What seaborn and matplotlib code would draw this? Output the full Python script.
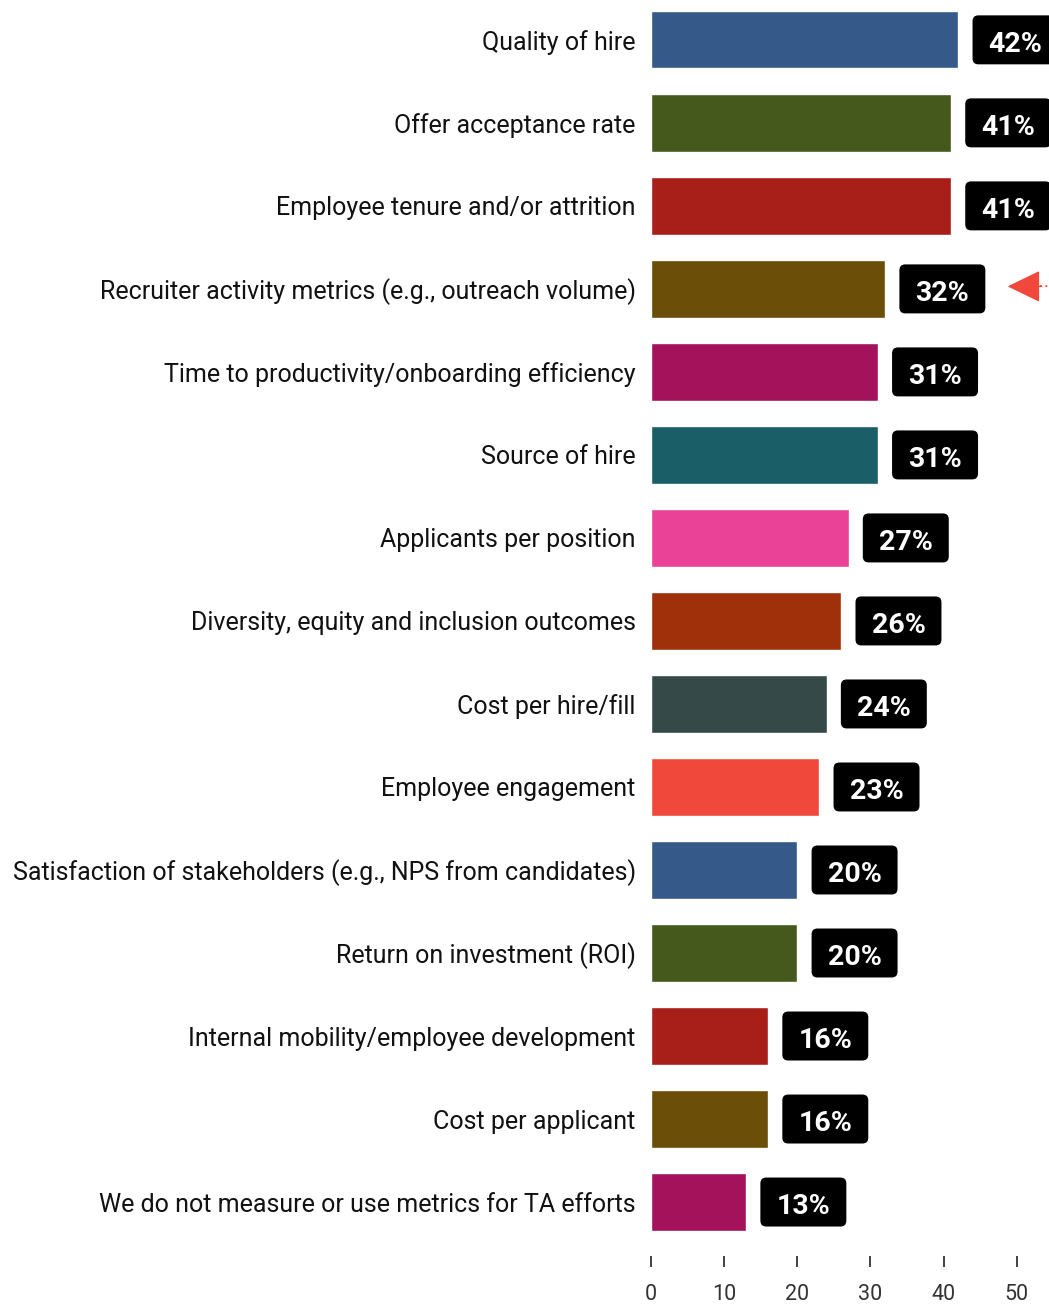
import matplotlib
matplotlib.use("Agg")
import matplotlib.pyplot as plt
from matplotlib.patches import FancyBboxPatch
import seaborn as sns
import pandas as pd

categories = [
    "Quality of hire",
    "Offer acceptance rate",
    "Employee tenure and/or attrition",
    "Recruiter activity metrics (e.g., outreach volume)",
    "Time to productivity/onboarding efficiency",
    "Source of hire",
    "Applicants per position",
    "Diversity, equity and inclusion outcomes",
    "Cost per hire/fill",
    "Employee engagement",
    "Satisfaction of stakeholders (e.g., NPS from candidates)",
    "Return on investment (ROI)",
    "Internal mobility/employee development",
    "Cost per applicant",
    "We do not measure or use metrics for TA efforts",
]
values = [42, 41, 41, 32, 31, 31, 27, 26, 24, 23, 20, 20, 16, 16, 13]
colors = [
    "#355A8A", "#45591D", "#A81F1A", "#6B4E07", "#A3125A",
    "#1A5E68", "#EA4296", "#A0300A", "#354A48", "#F0483A",
    "#355A8A", "#45591D", "#A81F1A", "#6B4E07", "#A3125A",
]
xticks = [0, 10, 20, 30, 40, 50]
highlight = "Recruiter activity metrics (e.g., outreach volume)"

df = pd.DataFrame({"category": categories, "value": values})

sns.set_theme(style="white")
plt.rcParams["font.family"] = ["Roboto", "DejaVu Sans"]

fig = plt.figure(figsize=(10.49, 13.05), dpi=100)
ax = fig.add_axes([651 / 1049, 49 / 1305, 1 - 651 / 1049, 1256 / 1305])

sns.barplot(
    data=df, x="value", y="category", hue="category",
    palette=colors, order=categories, hue_order=categories,
    width=0.69, legend=False, saturation=1, ax=ax,
)

ax.set_xlim(0, 54.4)
ax.set_ylim(14.65, -0.48)
ax.set_xlabel("")
ax.set_ylabel("")
for s in ax.spines.values():
    s.set_visible(False)

ax.set_xticks(xticks)
ax.set_xticklabels([str(t) for t in xticks])
ax.tick_params(axis="x", direction="out", length=8, width=1.2, color="#222222",
               labelsize=15.5, labelcolor="#333333", pad=12, bottom=True)
ax.tick_params(axis="y", length=0, labelsize=18, labelcolor="#111111", pad=11)

# value tags in black rounded boxes
box_gap, box_w, box_h = 1.95, 11.75, 0.59
for i, v in enumerate(values):
    x0 = v + box_gap
    ax.add_patch(FancyBboxPatch(
        (x0, i - box_h / 2), box_w, box_h,
        boxstyle="round,pad=0,rounding_size=0.8", mutation_aspect=0.088,
        fc="black", ec="none", clip_on=False))
    ax.text(x0 + box_w / 2, i + 0.15, f"{v}%", ha="center", va="baseline",
            fontsize=20.5, fontweight="bold", color="white", clip_on=False)

# pointer to the highlighted row
yi = categories.index(highlight)
ax.plot([53.2, 56], [yi - 0.03, yi - 0.03], linestyle=(0, (1, 2)),
        color="#F0483A", linewidth=1.3, clip_on=False)
ax.annotate("", xy=(48.75, yi - 0.03), xytext=(53.4, yi - 0.03),
            arrowprops=dict(arrowstyle="-|>,head_length=1.75,head_width=0.85",
                            color="#F0483A", lw=1, shrinkA=0, shrinkB=0),
            annotation_clip=False)

fig.savefig("out.png", dpi=100)
